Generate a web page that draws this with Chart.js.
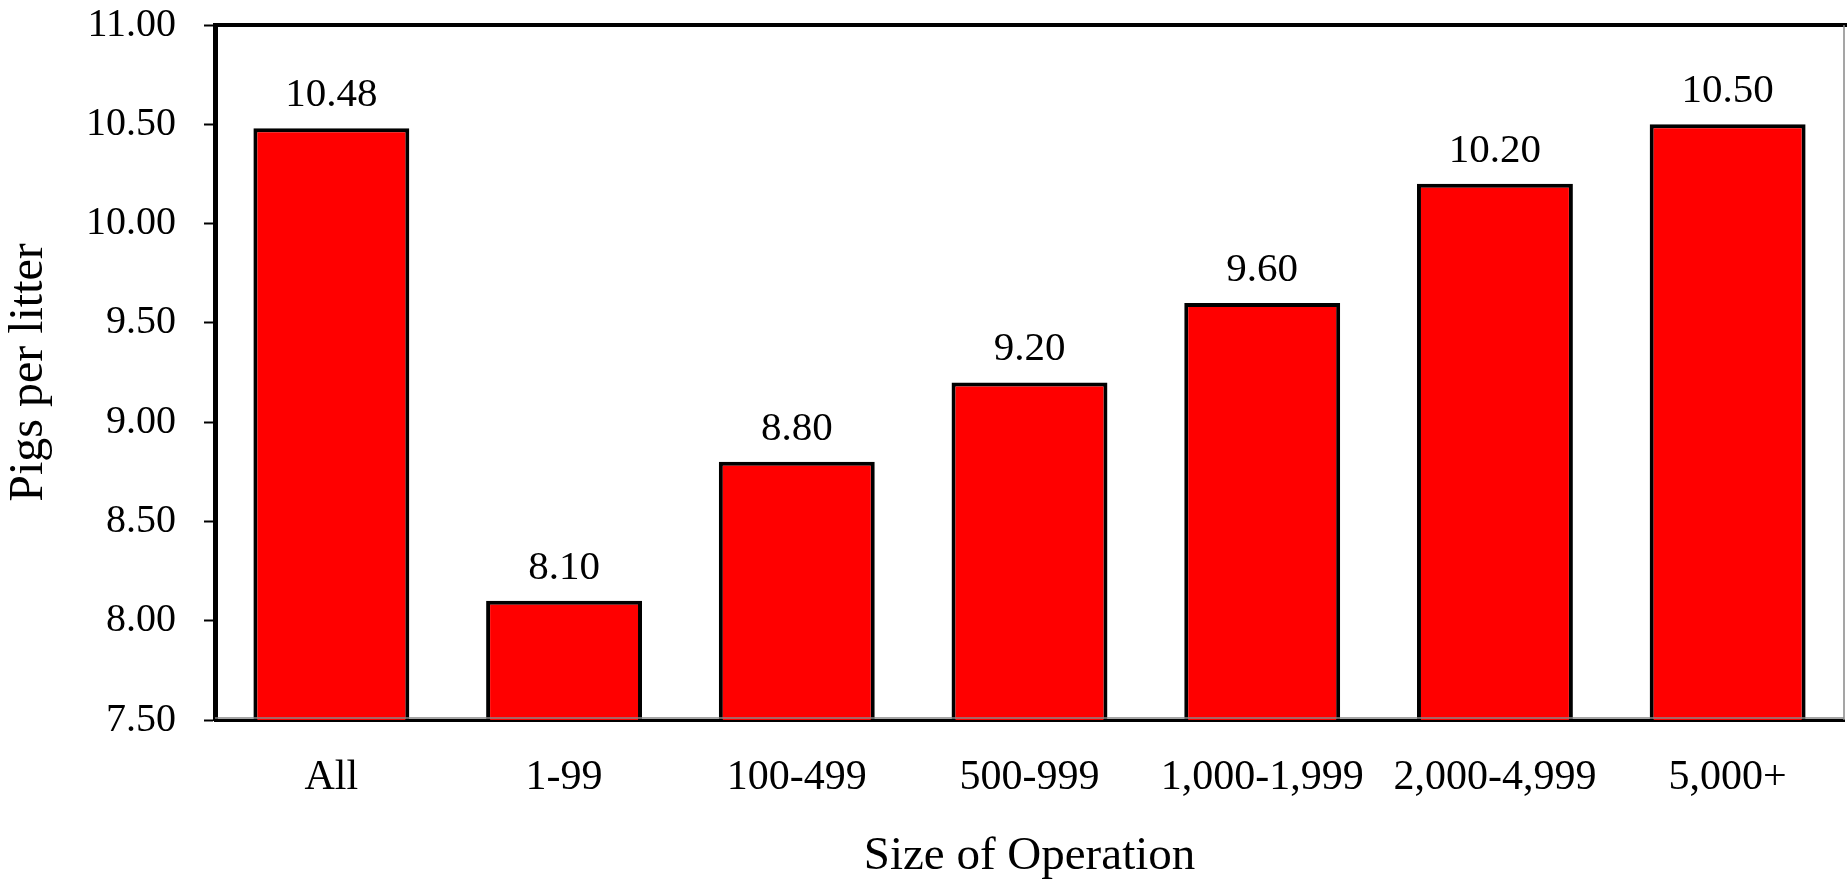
<!DOCTYPE html>
<html>
<head>
<meta charset="utf-8">
<script src="https://cdn.jsdelivr.net/npm/chart.js@4/dist/chart.umd.min.js"></script>
<style>
    body { margin: 0; background: #fff; }
    canvas { display: block; }
</style>
</head>
<body>
<canvas id="litterChart" width="1847" height="889"></canvas>
<script>
const categories = ["All", "1-99", "100-499", "500-999", "1,000-1,999", "2,000-4,999", "5,000+"];
const pigsPerLitter = [10.48, 8.10, 8.80, 9.20, 9.60, 10.20, 10.50];
const yMin = 7.5;
const yMax = 11;
const yStep = 0.5;

const serif = "'Liberation Serif', 'Times New Roman', serif";

// top, right and the grey bottom edge of the plot box
const frameLines = {
    id: "frameLines",
    afterDraw(chart) {
        const { ctx, chartArea } = chart;
        ctx.save();
        ctx.strokeStyle = "#000";
        ctx.lineWidth = 4;
        ctx.beginPath();
        ctx.moveTo(chartArea.left - 2, chartArea.top);
        ctx.lineTo(chartArea.right + 3, chartArea.top);
        ctx.stroke();
        ctx.strokeStyle = "#888";
        ctx.lineWidth = 1.5;
        ctx.beginPath();
        ctx.moveTo(chartArea.right, chartArea.top);
        ctx.lineTo(chartArea.right, chartArea.bottom);
        ctx.moveTo(chartArea.left, chartArea.bottom - 2);
        ctx.lineTo(chartArea.right, chartArea.bottom - 2);
        ctx.stroke();
        ctx.restore();
    }
};

// value labels above the bars
const barLabels = {
    id: "barLabels",
    afterDatasetsDraw(chart) {
        const { ctx } = chart;
        const meta = chart.getDatasetMeta(0);
        ctx.save();
        ctx.font = "41px " + serif;
        ctx.fillStyle = "#000";
        ctx.textAlign = "center";
        ctx.textBaseline = "alphabetic";
        meta.data.forEach(function (bar, i) {
            ctx.fillText(pigsPerLitter[i].toFixed(2), bar.x, bar.y - 22);
        });
        ctx.restore();
    }
};

const ctx = document.getElementById("litterChart").getContext("2d");
const litterChart = new Chart(ctx, {
    type: "bar",
    data: {
        labels: categories,
        datasets: [{
            data: pigsPerLitter,
            backgroundColor: "#ff0000",
            borderColor: "#000",
            borderWidth: 4,
            borderSkipped: "start",
            barPercentage: 0.67,
            categoryPercentage: 1
        }]
    },
    options: {
        responsive: false,
        animation: false,
        layout: { padding: { top: 25, right: 3, left: 0, bottom: 0 } },
        plugins: {
            legend: { display: false },
            tooltip: { enabled: false }
        },
        scales: {
            x: {
                grid: { display: false },
                border: { display: true, color: "#000", width: 3 },
                ticks: {
                    color: "#000",
                    font: { family: serif, size: 42 },
                    padding: 25,
                    maxRotation: 0,
                    autoSkip: false
                },
                title: {
                    display: true,
                    text: "Size of Operation",
                    color: "#000",
                    font: { family: serif, size: 47 },
                    padding: { top: 0, bottom: 4 }
                },
                afterFit(scale) { scale.height = 169; }
            },
            y: {
                min: yMin,
                max: yMax,
                grid: {
                    drawOnChartArea: false,
                    drawTicks: true,
                    tickLength: 11,
                    tickColor: "#000",
                    tickWidth: 2
                },
                border: { display: true, color: "#000", width: 5 },
                ticks: {
                    stepSize: yStep,
                    color: "#000",
                    font: { family: serif, size: 40 },
                    padding: 28,
                    callback: function (value) { return value.toFixed(2); }
                },
                title: {
                    display: true,
                    text: "Pigs per litter",
                    color: "#000",
                    font: { family: serif, size: 48 },
                    padding: { top: 1, bottom: 0 }
                },
                afterFit(scale) {
                    scale.width = 215;
                    scale.paddingTop = 0;
                    scale.paddingBottom = 0;
                }
            }
        }
    },
    plugins: [frameLines, barLabels]
});
</script>
</body>
</html>
